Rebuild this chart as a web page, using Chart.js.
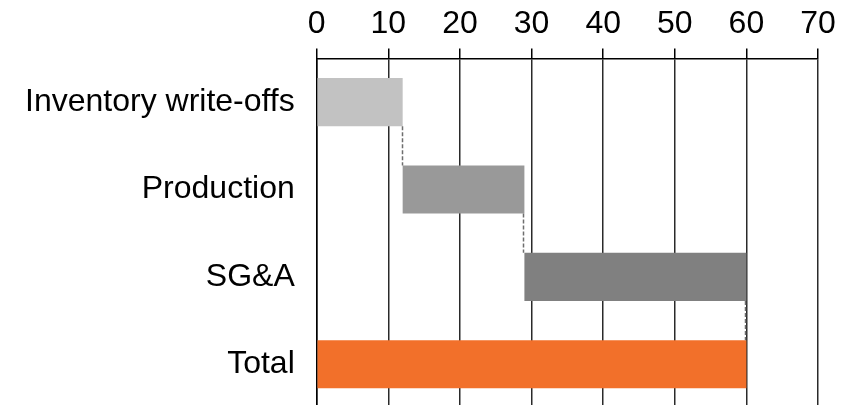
<!DOCTYPE html>
<html>
<head>
<meta charset="utf-8">
<script src="https://cdn.jsdelivr.net/npm/chart.js@4/dist/chart.umd.min.js"></script>
<style>
  html, body { margin: 0; padding: 0; background: #fff; overflow: hidden; }
  #wrap { width: 856px; height: 408px; position: relative; }
</style>
</head>
<body>
<div id="wrap"><canvas id="chart"></canvas></div>
<script>
// Cost bridge: each step adds onto the running total, the last bar is the total
const categories = ['Inventory write-offs', 'Production', 'SG&A', 'Total'];
const steps = [12, 17, 31];
const total = 60;
const barColors = ['#c2c2c2', '#999999', '#808080', '#f2702a'];
const axisMin = 0;
const axisMax = 70;
const axisStep = 10;

// Floating ranges [start, end] built from the running sum of the steps
const ranges = [];
let running = 0;
for (const s of steps) {
  ranges.push([running, running + s]);
  running += s;
}
ranges.push([0, total]);

// Dashed vertical connectors from the end of one bar to the start of the next
const connectors = {
  id: 'connectors',
  afterDatasetsDraw(chart) {
    const meta = chart.getDatasetMeta(0);
    const x = chart.scales.x;
    const ctx = chart.ctx;
    ctx.save();
    ctx.strokeStyle = '#6e6e6e';
    ctx.lineWidth = 1.5;
    ctx.setLineDash([4, 2]);
    for (let i = 0; i < meta.data.length - 1; i++) {
      const a = meta.data[i], b = meta.data[i + 1];
      const px = Math.round(x.getPixelForValue(ranges[i][1])) - 0.5;
      const y1 = a.y + a.height / 2;
      const y2 = b.y - b.height / 2;
      ctx.beginPath();
      ctx.moveTo(px, y1);
      ctx.lineTo(px, y2);
      ctx.stroke();
    }
    ctx.restore();
  }
};

const labelFont = { family: 'Liberation Sans, Arial, sans-serif', size: 32 };

new Chart(document.getElementById('chart'), {
  type: 'bar',
  data: {
    labels: categories,
    datasets: [{
      data: ranges,
      backgroundColor: barColors,
      borderWidth: 0,
      barPercentage: 0.55,
      categoryPercentage: 1.0
    }]
  },
  plugins: [connectors],
  options: {
    indexAxis: 'y',
    responsive: true,
    maintainAspectRatio: false,
    animation: false,
    layout: { padding: { left: 3, right: 38, top: 0, bottom: 0 } },
    plugins: { legend: { display: false }, tooltip: { enabled: false } },
    scales: {
      x: {
        position: 'top',
        min: axisMin,
        max: axisMax,
        ticks: {
          stepSize: axisStep,
          color: '#000',
          padding: 5,
          font: labelFont
        },
        grid: {
          color: '#2a2a2a',
          lineWidth: 1.5,
          drawTicks: true,
          tickLength: 10,
          tickColor: '#000'
        },
        border: { display: true, color: '#000', width: 1.5 }
      },
      y: {
        ticks: {
          color: '#000',
          padding: 22,
          font: labelFont
        },
        grid: { display: false, drawTicks: false },
        border: { display: true, color: '#000', width: 1.5 },
        // category labels sit beside the bars; no extra room needed above/below
        afterFit(scale) {
          scale.paddingTop = 0;
          scale.paddingBottom = 0;
        }
      }
    }
  }
});
</script>
</body>
</html>
